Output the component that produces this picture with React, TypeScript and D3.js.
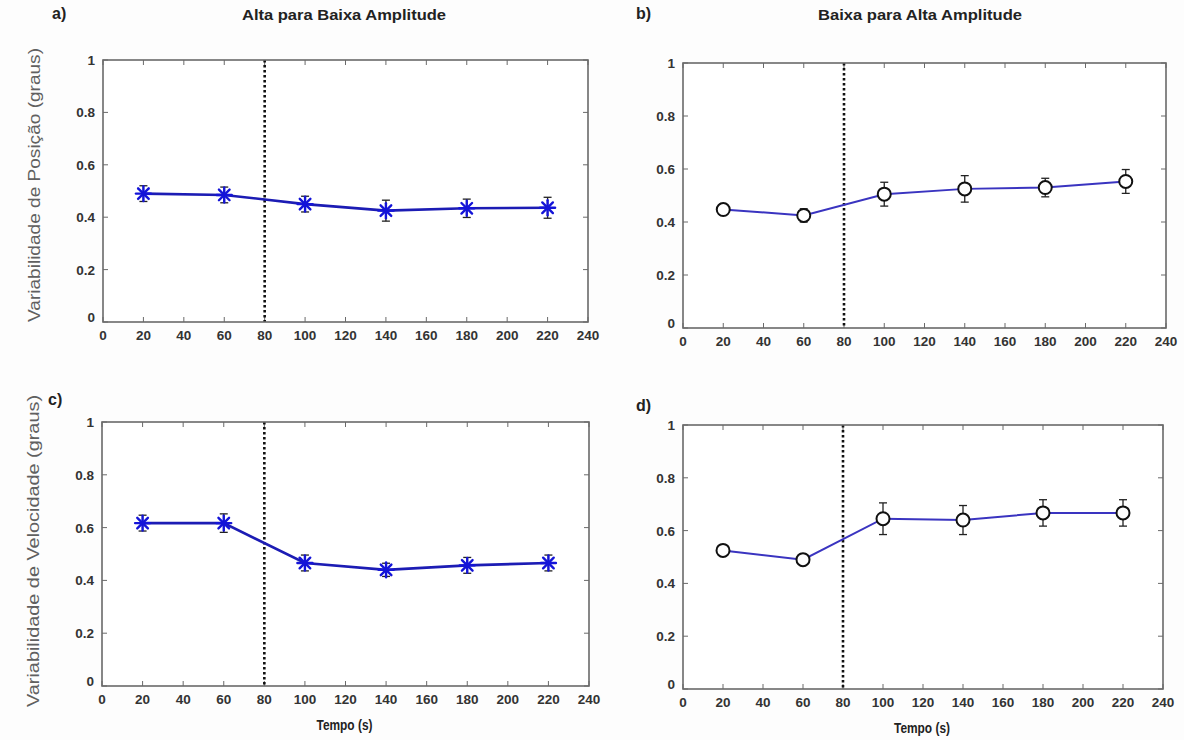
import React from "react";
import * as d3 from "d3";

const times = [20, 60, 100, 140, 180, 220];
const posHighLow = [0.49, 0.485, 0.45, 0.425, 0.434, 0.436];
const posHighLowErr = [0.03, 0.03, 0.03, 0.04, 0.035, 0.04];
const posLowHigh = [0.447, 0.425, 0.505, 0.525, 0.53, 0.553];
const posLowHighErr = [0.02, 0.025, 0.045, 0.05, 0.035, 0.045];
const velHighLow = [0.617, 0.617, 0.466, 0.44, 0.457, 0.466];
const velHighLowErr = [0.03, 0.035, 0.03, 0.025, 0.03, 0.03];
const velLowHigh = [0.525, 0.49, 0.645, 0.64, 0.667, 0.667];
const velLowHighErr = [0.02, 0.02, 0.06, 0.055, 0.05, 0.05];
const xTicks = [0, 20, 40, 60, 80, 100, 120, 140, 160, 180, 200, 220, 240];
const yTicks = [0, 0.2, 0.4, 0.6, 0.8, 1];
const yTickLabels = ["0", "0.2", "0.4", "0.6", "0.8", "1"];
const changeTime = 80;

type Panel = {
  key: string;
  letter: string;
  box: [number, number, number, number]; // left, right, top, bottom
  values: number[];
  errs: number[];
  marker: "star" | "circle";
  title?: string;
  titleX?: number;
  ylabel?: string;
  ylabelY?: number;
  ylabelLen?: number;
  xlabel?: boolean;
  letterPos: [number, number];
};

const panels: Panel[] = [
  { key: "a", letter: "a)", box: [103, 588, 60, 322], values: posHighLow, errs: posHighLowErr, marker: "star", title: "Alta para Baixa Amplitude", titleX: 344, ylabel: "Variabilidade de Posição (graus)", ylabelY: 185, ylabelLen: 274, letterPos: [52, 19] },
  { key: "b", letter: "b)", box: [683, 1166, 63, 328], values: posLowHigh, errs: posLowHighErr, marker: "circle", title: "Baixa para Alta Amplitude", titleX: 920, letterPos: [636, 19] },
  { key: "c", letter: "c)", box: [102, 589, 422, 686], values: velHighLow, errs: velHighLowErr, marker: "star", ylabel: "Variabilidade de Velocidade (graus)", ylabelY: 551, ylabelLen: 312, xlabel: true, letterPos: [48, 405] },
  { key: "d", letter: "d)", box: [683, 1163, 425, 689], values: velLowHigh, errs: velLowHighErr, marker: "circle", xlabel: true, letterPos: [636, 411] },
];

const FONT = "'Liberation Sans', Arial, Helvetica, sans-serif";

function PanelView({ p }: { p: Panel }) {
  const [l, r, t, b] = p.box;
  const x = d3.scaleLinear().domain([0, 240]).range([l, r]);
  const y = d3.scaleLinear().domain([0, 1]).range([b, t]);
  const line = d3
    .line<number>()
    .x((_, i) => x(times[i]))
    .y((v) => y(v));
  const isStar = p.marker === "star";
  const lineColor = isStar ? "#1c1cb4" : "#3a34c0";
  const axisColor = "#6a6a6a";
  const tl = 5;
  return (
    <g>
      <rect x={l} y={t} width={r - l} height={b - t} fill="#fff" stroke="none" />
      {xTicks.map((v) => (
        <g key={"xt" + v}>
          <line x1={x(v)} x2={x(v)} y1={b} y2={b - tl} stroke={axisColor} strokeWidth={1} />
          <line x1={x(v)} x2={x(v)} y1={t} y2={t + tl} stroke={axisColor} strokeWidth={1} />
          <text x={x(v)} y={b + 18} textAnchor="middle" fontFamily={FONT} fontSize={13.5} fontWeight="bold" fill="#333">
            {v}
          </text>
        </g>
      ))}
      {yTicks.map((v, i) => (
        <g key={"yt" + v}>
          <line x1={l} x2={l + tl} y1={y(v)} y2={y(v)} stroke={axisColor} strokeWidth={1} />
          <line x1={r} x2={r - tl} y1={y(v)} y2={y(v)} stroke={axisColor} strokeWidth={1} />
          <text x={l - 8} y={y(v) + (v === 0 ? 0 : 5)} textAnchor="end" fontFamily={FONT} fontSize={13.5} fontWeight="bold" fill="#333">
            {yTickLabels[i]}
          </text>
        </g>
      ))}
      <line x1={x(changeTime)} x2={x(changeTime)} y1={t} y2={b} stroke="#111" strokeWidth={2.6} strokeDasharray="2.5,2.5" />
      <path d={line(p.values) || ""} fill="none" stroke={lineColor} strokeWidth={isStar ? 2.6 : 2} />
      {p.values.map((v, i) => {
        const cx = x(times[i]);
        const y1 = y(v + p.errs[i]);
        const y2 = y(v - p.errs[i]);
        return (
          <g key={"e" + i} stroke="#222" strokeWidth={1.3}>
            <line x1={cx} x2={cx} y1={y1} y2={y2} />
            <line x1={cx - 4} x2={cx + 4} y1={y1} y2={y1} />
            <line x1={cx - 4} x2={cx + 4} y1={y2} y2={y2} />
          </g>
        );
      })}
      {p.values.map((v, i) => {
        const cx = x(times[i]);
        const cy = y(v);
        if (isStar) {
          const rr = 7.5;
          const d = rr * Math.SQRT1_2;
          return (
            <g key={"m" + i} stroke="#1414d8" strokeWidth={2.4} strokeLinecap="round">
              <line x1={cx - rr} x2={cx + rr} y1={cy} y2={cy} />
              <line x1={cx} x2={cx} y1={cy - rr} y2={cy + rr} />
              <line x1={cx - d} x2={cx + d} y1={cy - d} y2={cy + d} />
              <line x1={cx - d} x2={cx + d} y1={cy + d} y2={cy - d} />
            </g>
          );
        }
        return <circle key={"m" + i} cx={cx} cy={cy} r={6.5} fill="#fff" stroke="#111" strokeWidth={2} />;
      })}
      <rect x={l} y={t} width={r - l} height={b - t} fill="none" stroke={axisColor} strokeWidth={1.6} />
      <text x={p.letterPos[0]} y={p.letterPos[1]} fontFamily={FONT} fontSize={16} fontWeight="bold" fill="#222">
        {p.letter}
      </text>
      {p.title && (
        <text x={p.titleX} y={20} textAnchor="middle" fontFamily={FONT} fontSize={14} fontWeight="bold" fill="#222" textLength={204} lengthAdjust="spacingAndGlyphs">
          {p.title}
        </text>
      )}
      {p.ylabel && (
        <text
          transform={`translate(${l - 63},${p.ylabelY}) rotate(-90)`}
          textAnchor="middle"
          fontFamily={FONT}
          fontSize={16.5}
          fill="#606060"
          textLength={p.ylabelLen}
          lengthAdjust="spacingAndGlyphs"
        >
          {p.ylabel}
        </text>
      )}
      {p.xlabel && (
        <text x={(l + r) / 2 - 1} y={b + 44} textAnchor="middle" fontFamily={FONT} fontSize={15} fontWeight="bold" fill="#222" textLength={56} lengthAdjust="spacingAndGlyphs">
          Tempo (s)
        </text>
      )}
    </g>
  );
}

export default function App() {
  return (
    <svg width={1184} height={740} style={{ position: "absolute", left: 0, top: 0, background: "#fff" }}>
      <rect x={0} y={0} width={1184} height={740} fill="#fdfdfd" />
      {panels.map((p) => (
        <PanelView key={p.key} p={p} />
      ))}
    </svg>
  );
}
